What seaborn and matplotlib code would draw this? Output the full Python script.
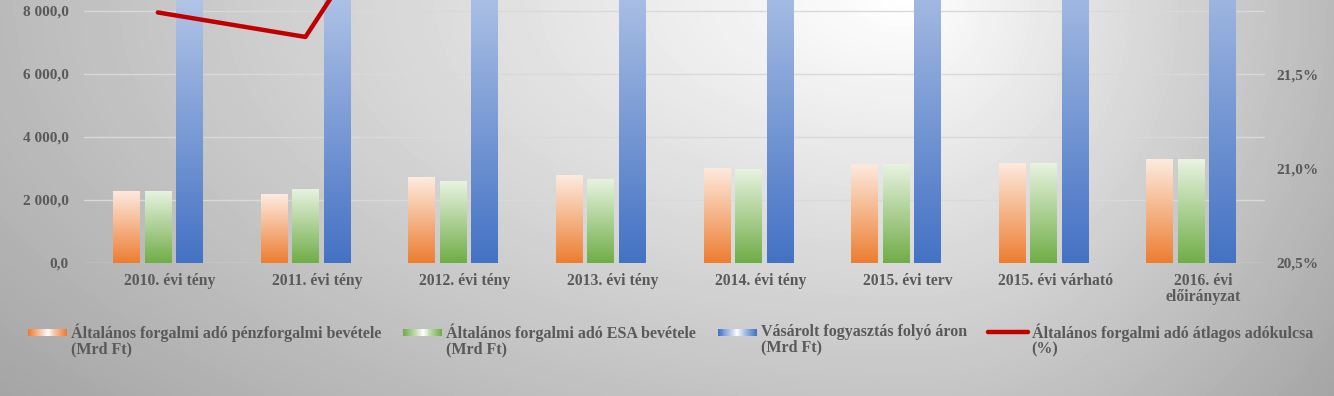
import numpy as np
import pandas as pd
import matplotlib
matplotlib.use("Agg")
import matplotlib.pyplot as plt
import matplotlib.transforms as mtransforms
from matplotlib.colors import LinearSegmentedColormap, to_rgb
from matplotlib.legend_handler import HandlerBase
from matplotlib.patches import Patch, Rectangle
from matplotlib.lines import Line2D
from matplotlib.ticker import FuncFormatter, FixedLocator
import seaborn as sns

# ---- data ----
categories = ["2010. évi tény", "2011. évi tény", "2012. évi tény", "2013. évi tény",
              "2014. évi tény", "2015. évi terv", "2015. évi várható", "2016. évi\nelőirányzat"]
afa_penzforgalmi = [2290, 2190, 2730, 2790, 3025, 3150, 3175, 3300]
afa_esa = [2290, 2350, 2600, 2670, 2985, 3150, 3175, 3300]
vasarolt_fogyasztas = [14300, 14900, 15300, 15600, 16200, 16700, 16900, 17500]
atlagos_adokulcs = [21.83, 21.70, 22.90, 23.00, 23.10, 23.20, 23.20, 23.30]

series_names = [
    "Általános forgalmi adó pénzforgalmi bevétele\n(Mrd Ft)",
    "Általános forgalmi adó ESA bevétele\n(Mrd Ft)",
    "Vásárolt fogyasztás folyó áron\n(Mrd Ft)",
]
line_name = "Általános forgalmi adó átlagos adókulcsa\n(%)"

# bottom colour, top colour of each bar gradient
bar_colors = [("#ed7d31", "#fdebe0"), ("#70ad47", "#e9f3e2"), ("#4472c4", "#ffffff")]
line_color = "#c00000"
text_color = "#595959"

df = pd.DataFrame({
    "cat": categories * 3,
    "value": afa_penzforgalmi + afa_esa + vasarolt_fogyasztas,
    "series": [s for s in series_names for _ in categories],
})

sns.set_style("white")
plt.rcParams["font.family"] = ["Liberation Serif", "DejaVu Serif"]
plt.rcParams["font.weight"] = "bold"

W, H = 1334, 396
fig = plt.figure(figsize=(W / 100, H / 100), dpi=100)

# soft grey background, lighter toward the top middle
bg = fig.add_axes([0, 0, 1, 1], zorder=-10)
yy, xx = np.mgrid[0:H, 0:W]
cx = 0.68 * W
u = np.where(xx < cx, (xx - cx) / cx, (xx - cx) / (W - cx))
v = yy / H
g = 1 - 0.27 * np.sqrt(u ** 2 + (0.85 * v) ** 2)
bg.imshow(g, cmap="gray", vmin=0, vmax=1, aspect="auto", interpolation="bilinear")
bg.set_axis_off()

ax = fig.add_axes([84 / W, 1 - 263 / H, (1265 - 84) / W, 263 / H])
ax.set_facecolor("none")

sns.barplot(data=df, x="cat", y="value", hue="series", hue_order=series_names,
            ax=ax, width=0.64, gap=0.16, legend=False, saturation=1)

# replace flat bars with vertical gradients
for cont, (c_bot, c_top) in zip(ax.containers, bar_colors):
    cmap = LinearSegmentedColormap.from_list("g", [c_bot, c_top])
    for p in cont.patches:
        x0, w, h = p.get_x(), p.get_width(), p.get_height()
        p.set_facecolor("none")
        p.set_edgecolor("none")
        im = ax.imshow(np.linspace(0, 1, 256).reshape(-1, 1), cmap=cmap, origin="lower",
                       extent=[x0, x0 + w, 0, h], aspect="auto", zorder=2)
        im.set_clip_path(p)

ax.set_xlim(-0.5, len(categories) - 0.5)
ax.set_ylim(0, 8349)
ax.yaxis.set_major_locator(FixedLocator([0, 2000, 4000, 6000, 8000]))
ax.yaxis.set_major_formatter(FuncFormatter(
    lambda v, _: f"{v:,.1f}".replace(",", " ").replace(".", ",")))
ax.grid(axis="y", color="#d9d9d9", lw=1.0, zorder=0)
ax.set_axisbelow(True)
ax.set_xlabel("")
ax.set_ylabel("")
for s in ax.spines.values():
    s.set_visible(False)
ax.tick_params(axis="y", length=0, pad=11, labelsize=11, labelcolor=text_color)
ax.tick_params(axis="x", length=0, pad=7.5, labelsize=11.3, labelcolor=text_color)
shift = mtransforms.ScaledTranslation(12 / 100, 0, fig.dpi_scale_trans)
for lab in ax.get_xticklabels():
    lab.set_transform(lab.get_transform() + shift)
    lab.set_linespacing(0.95)

# average tax rate on the secondary axis
ax2 = ax.twinx()
sns.lineplot(x=np.arange(len(categories)), y=atlagos_adokulcs, ax=ax2,
             color=line_color, lw=3.2)
ax2.set_ylim(20.5, 21.896)
ax2.yaxis.set_major_locator(FixedLocator([20.5, 21.0, 21.5]))
ax2.yaxis.set_major_formatter(FuncFormatter(lambda v, _: f"{v:.1f}%".replace(".", ",")))
ax2.tick_params(axis="y", length=0, pad=8, labelsize=11, labelcolor=text_color)
for s in ax2.spines.values():
    s.set_visible(False)
ax2.set_ylabel("")


class SwatchHandler(HandlerBase):
    """Excel-like legend key: colour at the ends, white in the middle (or a thick line)."""

    def __init__(self, color, line=False, dy=0.0):
        super().__init__()
        self.color = color
        self.line = line
        self.dy = dy

    def create_artists(self, legend, orig_handle, xdescent, ydescent, width, height,
                       fontsize, trans):
        y0 = -ydescent + height / 2 + self.dy * fontsize
        x0 = -xdescent
        if self.line:
            ln = Line2D([x0, x0 + width], [y0, y0], color=self.color, lw=3.2,
                        solid_capstyle="round", transform=trans)
            return [ln]
        rgb = np.array(to_rgb(self.color))
        n = 40
        hh = 0.4 * fontsize
        arts = []
        for i in range(n):
            t = abs(i / (n - 1) * 2 - 1) ** 0.9
            col = (1 - t) * np.ones(3) + t * rgb
            arts.append(Rectangle((x0 + i * width / n, y0 - hh / 2), width / n * 1.05, hh,
                                  facecolor=col, edgecolor="none", transform=trans))
        return arts


handles = [Patch(label=n) for n in series_names] + [Patch(label=line_name)]
hmap = {handles[0]: SwatchHandler(bar_colors[0][0], dy=0.5),
        handles[1]: SwatchHandler(bar_colors[1][0], dy=0.5),
        handles[2]: SwatchHandler(bar_colors[2][0], dy=0.5),
        handles[3]: SwatchHandler(line_color, line=True, dy=0.5)}
leg = fig.legend(handles=handles, labels=series_names + [line_name], handler_map=hmap,
                 loc="upper left", bbox_to_anchor=(28 / W, 1 - 323 / H), ncol=4,
                 frameon=False, handlelength=2.45, handletextpad=0.25, columnspacing=1.35,
                 borderpad=0, borderaxespad=0, fontsize=11.5)
for t in leg.get_texts():
    t.set_color(text_color)
    t.set_linespacing(0.95)

fig.savefig("out.png", dpi=100)
